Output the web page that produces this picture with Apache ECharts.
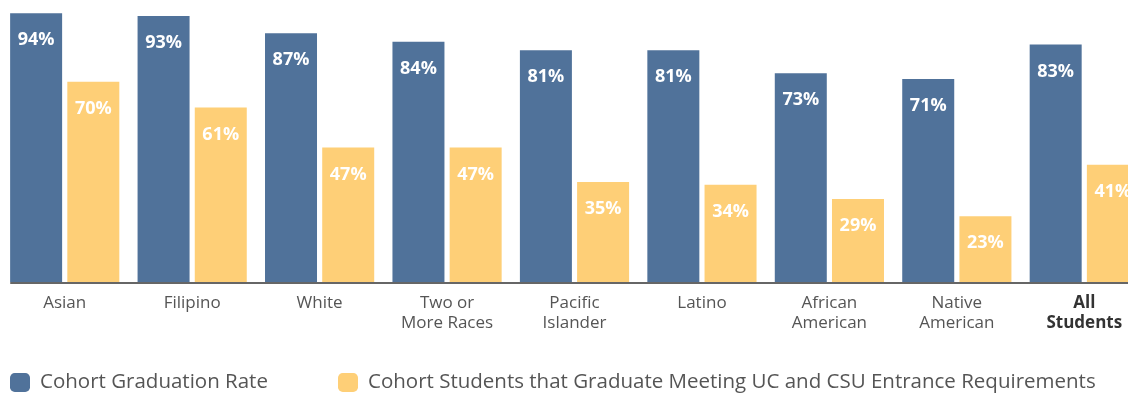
<!DOCTYPE html>
<html>
<head>
<meta charset="utf-8">
<script src="https://cdn.jsdelivr.net/npm/echarts@6/dist/echarts.min.js"></script>
<style>
  html, body { margin: 0; padding: 0; background: #fff; }
  #chart { width: 1128px; height: 394px; }
</style>
</head>
<body>
<div id="chart"></div>
<script>
const categories = ['Asian', 'Filipino', 'White', 'Two or\nMore Races', 'Pacific\nIslander', 'Latino', 'African\nAmerican', 'Native\nAmerican', 'All\nStudents'];
const graduationRate = [94, 93, 87, 84, 81, 81, 73, 71, 83];
const ucCsuRate = [70, 61, 47, 47, 35, 34, 29, 23, 41];
const seriesNames = ['Cohort Graduation Rate', 'Cohort Students that Graduate Meeting UC and CSU Entrance Requirements'];

const BLUE = '#50729a';
const GOLD = '#fecf77';
const FONT = '"Open Sans", "DejaVu Sans", sans-serif';

const chart = echarts.init(document.getElementById('chart'), null, { renderer: 'canvas' });

const valueLabel = {
  show: true,
  position: 'insideTop',
  distance: 18,
  color: '#fff',
  fontFamily: FONT,
  fontWeight: 'bold',
  fontSize: 18,
  formatter: p => p.value + '%'
};

const legendText = { fontFamily: FONT, fontSize: 20.5, color: '#555', padding: [0, 0, 0, 5] };

chart.setOption({
  animation: false,
  textStyle: { fontFamily: FONT },
  grid: { left: 1, width: 1147, top: -4, height: 286, containLabel: false, outerBoundsMode: 'none' },
  legend: [
    {
      data: [seriesNames[0]], left: 10, top: 372, padding: 0,
      itemWidth: 20, itemHeight: 19, icon: 'roundRect', itemGap: 0,
      textStyle: legendText
    },
    {
      data: [seriesNames[1]], left: 338, top: 372, padding: 0,
      itemWidth: 20, itemHeight: 19, icon: 'roundRect', itemGap: 0,
      textStyle: legendText
    }
  ],
  xAxis: {
    type: 'category',
    data: categories,
    axisLine: { show: false },
    axisTick: { show: false },
    axisLabel: {
      interval: 0,
      margin: 11,
      fontFamily: FONT,
      fontSize: 17,
      lineHeight: 20,
      color: '#555',
      verticalAlign: 'top',
      formatter: (v) => v.indexOf('All') === 0 ? v.split('\n').map(s => '{b|' + s + '}').join('\n') : v,
      rich: { b: { fontFamily: FONT, fontSize: 17, fontWeight: 'bold', color: '#333', lineHeight: 20 } }
    }
  },
  yAxis: {
    type: 'value', min: 0, max: 100, show: false,
    splitLine: { show: false }
  },
  series: [
    { name: seriesNames[0], type: 'bar', data: graduationRate, barWidth: 52, barGap: '10%', itemStyle: { color: BLUE }, label: valueLabel },
    { name: seriesNames[1], type: 'bar', data: ucCsuRate, barWidth: 52, barGap: '10%', itemStyle: { color: GOLD }, label: valueLabel }
  ]
});

// baseline rule under the bars
const baseY = chart.convertToPixel({ yAxisIndex: 0 }, 0);
const firstX = chart.convertToPixel({ xAxisIndex: 0 }, 0) - 54.5;
chart.setOption({
  graphic: [{
    type: 'line',
    shape: { x1: firstX, y1: baseY + 1, x2: 1128, y2: baseY + 1 },
    style: { stroke: '#666', lineWidth: 2 }
  }]
});
</script>
</body>
</html>
